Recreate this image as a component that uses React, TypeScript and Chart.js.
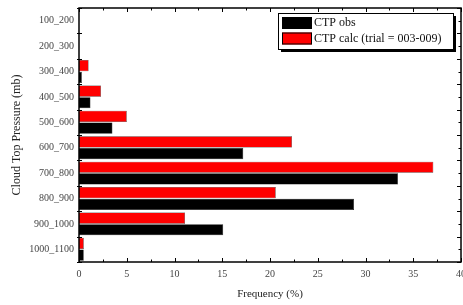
import React, { useEffect, useRef } from "react";
import { Chart, registerables } from "chart.js";

Chart.register(...registerables);

const categories = ["100_200", "200_300", "300_400", "400_500", "500_600", "600_700", "700_800", "800_900", "900_1000", "1000_1100"];
const obsValues = [0, 0, 0.3, 1.2, 3.5, 17.2, 33.4, 28.8, 15.1, 0.5];
const calcValues = [0, 0, 1.0, 2.3, 5.0, 22.3, 37.1, 20.6, 11.1, 0.5];
const xTicks = [0, 5, 10, 15, 20, 25, 30, 35, 40];

const FONT = "'Liberation Serif', 'Times New Roman', serif";

const framePlugin = {
  id: "frameTicks",
  afterDraw(chart: any) {
    const { ctx, chartArea: a, scales } = chart;
    const xs = scales.x;
    ctx.save();
    ctx.strokeStyle = "#000";
    ctx.lineWidth = 1.5;
    ctx.strokeRect(a.left, a.top, a.right - a.left, a.bottom - a.top);
    ctx.lineWidth = 1;
    for (let v = 0; v <= 40; v += 2.5) {
      const px = Math.round(xs.getPixelForValue(v)) + 0.5;
      const major = v % 5 === 0;
      const len = major ? 4 : 2.5;
      ctx.beginPath();
      ctx.moveTo(px, a.bottom);
      ctx.lineTo(px, a.bottom - len);
      ctx.moveTo(px, a.top);
      ctx.lineTo(px, a.top + len);
      ctx.stroke();
    }
    const n = categories.length;
    const step = (a.bottom - a.top) / n;
    for (let i = 0; i <= n * 2; i++) {
      const py = Math.round(a.top + (i * step) / 2) + 0.5;
      const major = i % 2 === 0;
      ctx.beginPath();
      if (major) {
        ctx.moveTo(a.left - 2, py);
        ctx.lineTo(a.left + 3, py);
        ctx.moveTo(a.right, py);
        ctx.lineTo(a.right - 4, py);
      } else {
        ctx.moveTo(a.right, py);
        ctx.lineTo(a.right - 2.5, py);
      }
      ctx.stroke();
    }
    // legend
    const ds = chart.data.datasets;
    const order = [1, 0];
    const lx = a.right - 183;
    const ly = a.top + 5;
    const lw = 175;
    const lh = 36;
    ctx.fillStyle = "#000";
    ctx.fillRect(lx + 3, ly + 3, lw, lh);
    ctx.fillStyle = "#fff";
    ctx.fillRect(lx, ly, lw, lh);
    ctx.strokeStyle = "#000";
    ctx.lineWidth = 1;
    ctx.strokeRect(lx + 0.5, ly + 0.5, lw, lh);
    ctx.font = `12px ${FONT}`;
    ctx.textBaseline = "middle";
    order.forEach((di, k) => {
      const y0 = ly + 4 + k * 15.5;
      ctx.fillStyle = ds[di].backgroundColor;
      ctx.fillRect(lx + 4, y0, 30, 12);
      ctx.strokeStyle = "#000";
      ctx.strokeRect(lx + 4.5, y0 + 0.5, 29, 11);
      ctx.fillStyle = "#111";
      ctx.fillText(ds[di].label, lx + 36, y0 + 6);
    });
    ctx.restore();
  },
};

export default function App() {
  const ref = useRef<HTMLCanvasElement>(null);
  useEffect(() => {
    document.body.style.margin = "0";
    const chart = new Chart(ref.current!, {
      type: "bar",
      data: {
        labels: categories,
        datasets: [
          {
            label: "CTP calc (trial = 003-009)",
            data: calcValues,
            backgroundColor: "#ff0000",
            borderColor: "#000",
            borderWidth: 0.5,
            categoryPercentage: 0.92,
            barPercentage: 0.96,
          },
          {
            label: "CTP obs",
            data: obsValues,
            backgroundColor: "#000000",
            borderColor: "#000",
            borderWidth: 0.5,
            categoryPercentage: 0.92,
            barPercentage: 0.96,
          },
        ],
      },
      options: {
        indexAxis: "y",
        animation: false,
        responsive: false,
        maintainAspectRatio: false,
        layout: { padding: { top: 8, right: 2, left: 0, bottom: 0 } },
        plugins: { legend: { display: false }, tooltip: { enabled: false } },
        scales: {
          x: {
            min: 0,
            max: 40,
            afterBuildTicks: (s: any) => {
              s.ticks = xTicks.map((v) => ({ value: v }));
            },
            grid: { display: false, drawTicks: false },
            border: { display: false },
            ticks: { color: "#444", font: { family: FONT, size: 10 }, padding: 6, maxRotation: 0 },
            title: { display: true, text: "Frequency (%)", color: "#222", font: { family: FONT, size: 11 }, padding: { top: 6 } },
            afterFit: (s: any) => {
              s.height = 43;
              s.paddingLeft = 0;
              s.paddingRight = 0;
            },
          },
          y: {
            grid: { display: false, drawTicks: false },
            border: { display: false },
            ticks: { color: "#444", font: { family: FONT, size: 10 }, padding: 5 },
            title: { display: true, text: "Cloud Top Pressure (mb)", color: "#222", font: { family: FONT, size: 12 }, padding: { top: 10, bottom: 2 } },
            afterFit: (s: any) => {
              s.width = 79;
              s.paddingTop = 0;
              s.paddingBottom = 0;
            },
          },
        },
      },
      plugins: [framePlugin],
    });
    return () => chart.destroy();
  }, []);
  return (
    <div style={{ position: "absolute", left: 0, top: 0, width: 463, height: 305, background: "#fff" }}>
      <canvas ref={ref} width={463} height={305} />
    </div>
  );
}
